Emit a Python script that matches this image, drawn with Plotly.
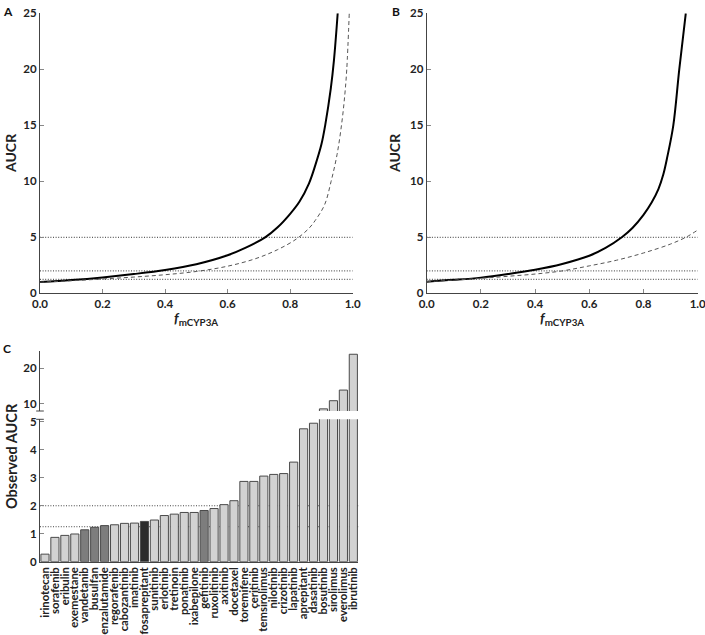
import plotly.graph_objects as go

# ---------------- data ----------------
# Panel A
fm_A_solid = [0.0, 0.1, 0.2, 0.3, 0.4, 0.5, 0.6, 0.66, 0.72, 0.76, 0.8, 0.83, 0.86, 0.88, 0.9, 0.912, 0.93, 0.94, 0.952]
aucr_A_solid = [1.0, 1.18, 1.42, 1.72, 2.08, 2.6, 3.4, 4.1, 5.0, 5.9, 7.1, 8.2, 9.8, 11.4, 13.3, 15.0, 18.3, 20.8, 25.0]
fm_A_dash = [0.0, 0.1, 0.2, 0.3, 0.4, 0.5, 0.6, 0.69, 0.76, 0.82, 0.86, 0.88, 0.91, 0.931, 0.95, 0.965, 0.975, 0.981, 0.989]
aucr_A_dash = [1.0, 1.12, 1.28, 1.45, 1.66, 1.95, 2.42, 3.1, 3.9, 4.85, 5.8, 6.5, 7.9, 10.0, 12.4, 15.2, 17.8, 20.0, 25.0]

# Panel B
fm_B_solid = [0.0, 0.1, 0.2, 0.3, 0.4, 0.5, 0.6, 0.66, 0.72, 0.76, 0.8, 0.83, 0.855, 0.873, 0.888, 0.91, 0.932, 0.956]
aucr_B_solid = [1.04, 1.2, 1.4, 1.72, 2.1, 2.62, 3.35, 4.05, 5.0, 5.85, 7.0, 8.1, 9.3, 10.6, 12.2, 15.0, 20.0, 25.0]
fm_B_dash = [0.0, 0.1, 0.2, 0.3, 0.4, 0.5, 0.6, 0.7, 0.8, 0.9, 0.96, 1.0]
aucr_B_dash = [1.04, 1.18, 1.34, 1.52, 1.72, 2.0, 2.45, 2.95, 3.6, 4.4, 5.05, 5.65]

# Reference thresholds
thresholds_AB = [5, 2, 1.25]
thresholds_C = [2, 1.25]

# Panel C
drugs = ["irinotecan", "sorafenib", "eribulin", "exemestane", "vandetanib", "busulfan",
         "enzalutamide", "regorafenib", "cabozantinib", "imatinib", "fosaprepitant",
         "sunitinib", "erlotinib", "tretinoin", "ponatinib", "ixabepilone", "gefitinib",
         "ruxolitinib", "axitinib", "docetaxel", "toremifene", "ceritinib", "temsirolimus",
         "nilotinib", "crizotinib", "lapatinib", "aprepitant", "dasatinib", "bosutinib",
         "sirolimus", "everolimus", "ibrutinib"]
observed_aucr = [0.27, 0.87, 0.94, 0.99, 1.14, 1.23, 1.29, 1.32, 1.37, 1.38, 1.44,
                 1.49, 1.65, 1.70, 1.76, 1.76, 1.83, 1.90, 2.04, 2.18, 2.87, 2.87, 3.06,
                 3.12, 3.15, 3.56, 4.75, 4.95, 8.6, 10.9, 13.9, 24.0]

# styles
mid_gray_drugs = {"vandetanib", "busulfan", "enzalutamide", "gefitinib"}
dark_drugs = {"fosaprepitant"}
bar_colors = ["#2b2b2b" if d in dark_drugs else ("#7d7d7d" if d in mid_gray_drugs else "#d2d2d2")
              for d in drugs]

W, H = 705, 635
def fx(px):
    return px / W
def fy(py):
    return 1 - py / H

FONT = "Lato"
tickfont = dict(family=FONT, size=11.5, color="#222", weight="bold")
titlefont = dict(family=FONT, size=14, color="#222", weight="bold")
AXC = "#444"
DOT = "1px,1.6px"

fig = go.Figure()

solid_line = dict(color="black", width=2, shape="spline", smoothing=1.0)
dash_line = dict(color="#555", width=1, dash="4px,3px", shape="spline", smoothing=1.0)

# Panel A
fig.add_trace(go.Scatter(x=fm_A_solid, y=aucr_A_solid, mode="lines", line=solid_line,
                         xaxis="x", yaxis="y", showlegend=False))
fig.add_trace(go.Scatter(x=fm_A_dash, y=aucr_A_dash, mode="lines", line=dash_line,
                         xaxis="x", yaxis="y", showlegend=False))
# Panel B
fig.add_trace(go.Scatter(x=fm_B_solid, y=aucr_B_solid, mode="lines", line=solid_line,
                         xaxis="x2", yaxis="y2", showlegend=False))
fig.add_trace(go.Scatter(x=fm_B_dash, y=aucr_B_dash, mode="lines", line=dash_line,
                         xaxis="x2", yaxis="y2", showlegend=False))
# Panel C (lower and upper segments of the broken axis)
for xa, ya in (("x3", "y3"), ("x4", "y4")):
    fig.add_trace(go.Bar(x=drugs, y=observed_aucr, marker=dict(color=bar_colors, line=dict(color="#4a4a4a", width=1)),
                         xaxis=xa, yaxis=ya, showlegend=False))

shapes = []
for t in thresholds_AB:
    for xr, yr in (("x", "y"), ("x2", "y2")):
        shapes.append(dict(type="line", xref=xr, yref=yr, x0=0, x1=1, y0=t, y1=t,
                           line=dict(color="#333", width=1, dash=DOT), layer="below"))
for t in thresholds_C:
    shapes.append(dict(type="line", xref="x3 domain", yref="y3", x0=0, x1=1, y0=t, y1=t,
                       line=dict(color="#444", width=1, dash=DOT), layer="below"))
# small break marks at the ends of the broken y axis in panel C
for yr, yv in (("y4 domain", 0), ("y3 domain", 1)):
    shapes.append(dict(type="line", xref="x3 domain", yref=yr, x0=-0.012, x1=0.012, y0=yv, y1=yv,
                       line=dict(color=AXC, width=1)))

xcommon = dict(range=[0, 1], tickvals=[0, 0.2, 0.4, 0.6, 0.8, 1.0], tickformat=".1f", ticks="inside", ticklen=4,
               tickcolor="#888", showline=True, linecolor=AXC, linewidth=1, showgrid=False, zeroline=False,
               tickfont=tickfont, automargin=False, ticklabeloverflow="allow")
ycommon = dict(range=[0, 25], tickvals=[0, 5, 10, 15, 20, 25], ticks="inside", ticklen=4, tickcolor="#888",
               showline=True, linecolor=AXC, linewidth=1, showgrid=False, zeroline=False, tickfont=tickfont,
               automargin=False)

letter_font = dict(family=FONT, size=12, color="#111", weight="bold")
xt = "<i>f</i><sub>mCYP3A</sub>"

fig.update_layout(
    width=W, height=H, margin=dict(l=0, r=0, t=0, b=0, autoexpand=False),
    paper_bgcolor="white", plot_bgcolor="rgba(0,0,0,0)",
    bargap=0.18,
    xaxis=dict(domain=[fx(40), fx(352.7)], anchor="y", **xcommon),
    yaxis=dict(domain=[fy(293.3), fy(13.3)], anchor="x", **ycommon),
    xaxis2=dict(domain=[fx(426.7), fx(697.7)], anchor="y2", **xcommon),
    yaxis2=dict(domain=[fy(293.3), fy(13.3)], anchor="x2", **ycommon),
    xaxis3=dict(domain=[fx(40), fx(358.3)], anchor="y3", range=[-0.5, len(drugs) - 0.5], tickangle=-90,
                tickmode="array", tickvals=drugs, ticktext=drugs,
                showline=True, linecolor=AXC, linewidth=1, ticks="", showgrid=False, zeroline=False,
                tickfont=dict(family=FONT, size=11.3, color="#222", weight="bold"), automargin=False),
    yaxis3=dict(domain=[fy(561.7), fy(419.3)], anchor="x3", range=[0, 5.09], tickvals=[0, 1, 2, 3, 4, 5],
                ticks="inside", ticklen=4, tickcolor="#888", showline=True, linecolor=AXC, linewidth=1,
                showgrid=False, zeroline=False, tickfont=tickfont, automargin=False),
    xaxis4=dict(domain=[fx(40), fx(358.3)], anchor="y4", matches="x3", showticklabels=False, showline=False,
                ticks="", showgrid=False, zeroline=False, automargin=False),
    yaxis4=dict(domain=[fy(411), fy(350.7)], anchor="x4", range=[8, 25], tickvals=[10, 20],
                ticks="inside", ticklen=4, tickcolor="#888", showline=True, linecolor=AXC, linewidth=1,
                showgrid=False, zeroline=False, tickfont=tickfont, automargin=False),
    shapes=shapes,
    annotations=[
        dict(text="A", x=fx(1), y=fy(2), xref="paper", yref="paper", xanchor="left", yanchor="top", showarrow=False,
             font=letter_font),
        dict(text="B", x=fx(390), y=fy(2), xref="paper", yref="paper", xanchor="left", yanchor="top", showarrow=False,
             font=letter_font),
        dict(text="C", x=fx(1), y=fy(339), xref="paper", yref="paper", xanchor="left", yanchor="top", showarrow=False,
             font=letter_font),
        dict(text="AUCR", x=fx(10), y=fy(153), xref="paper", yref="paper", xanchor="center", yanchor="middle",
             showarrow=False, textangle=-90, font=titlefont),
        dict(text="AUCR", x=fx(394), y=fy(153), xref="paper", yref="paper", xanchor="center", yanchor="middle",
             showarrow=False, textangle=-90, font=titlefont),
        dict(text=xt, x=fx(196), y=fy(319), xref="paper", yref="paper", xanchor="center", yanchor="middle",
             showarrow=False, font=titlefont),
        dict(text=xt, x=fx(562), y=fy(319), xref="paper", yref="paper", xanchor="center", yanchor="middle",
             showarrow=False, font=titlefont),
        dict(text="Observed AUCR", x=fx(11), y=fy(456), xref="paper", yref="paper", xanchor="center", yanchor="middle",
             showarrow=False, textangle=-90, font=dict(family=FONT, size=14.5, color="#222", weight="bold")),
    ],
)

fig.write_html("out.html", config={"displayModeBar": False},
               post_script="document.body.style.margin='0px';")
